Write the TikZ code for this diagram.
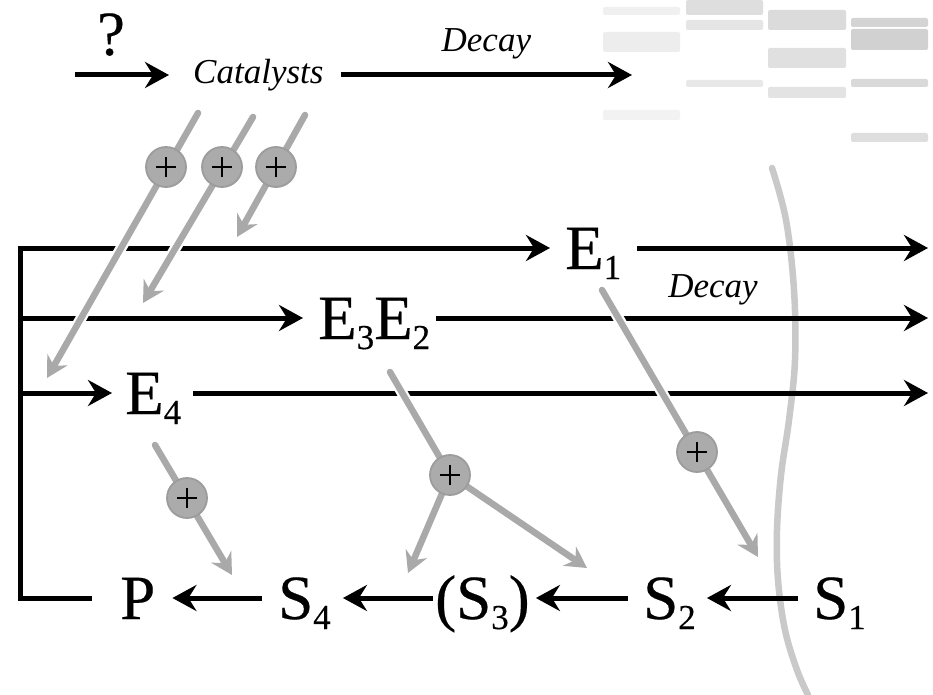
\documentclass[tikz,border=0pt]{standalone}
\usepackage{fontspec}
\setmainfont{Liberation Serif}
\newfontfamily\heavyserif[FakeBold=0.3]{Liberation Serif}
\usetikzlibrary{arrows.meta}
\definecolor{lineg}{HTML}{A9A9A9}
\definecolor{memg}{HTML}{C9C9C9}
\definecolor{circg}{HTML}{ABABAB}
\definecolor{circrim}{HTML}{9C9C9C}
% lowered, smaller index digits
\newcommand\lo[1]{\raisebox{-10pt}{\fontsize{35}{35}\selectfont #1}}
\begin{document}
\begin{tikzpicture}[x=1pt,y=-1pt,
  big/.style={font=\fontsize{63}{70}\heavyserif, inner sep=0pt, text height=42pt, text depth=0pt, anchor=west},
  lab/.style={font=\fontsize{35}{40}\selectfont\itshape, inner sep=0pt},
  blk/.style={line width=5pt, draw=black},
  barr/.style={blk, -{Stealth[length=24pt,width=26pt,inset=8pt]}},
  gline/.style={draw=lineg, line width=6.5pt, line cap=round},
  halo/.style={preaction={draw=white, line width=11pt, arrows=-, line cap=butt}},
  garr/.style={gline, -{Stealth[length=21pt,width=23pt,inset=7pt]}},
  plus/.style={circle, fill=circg, draw=circrim, line width=1.8pt, minimum size=40pt, inner sep=0pt,
    path picture={\draw[line width=2.4pt, black]
      ([xshift=-10pt]path picture bounding box.center) -- ([xshift=10pt]path picture bounding box.center)
      ([yshift=-10pt]path picture bounding box.center) -- ([yshift=10pt]path picture bounding box.center);}},
  gelbar/.style={rounded corners=2pt}
]
\useasboundingbox (0,0) rectangle (933,695);
\fill[white] (0,0) rectangle (933,695);

% faint gel lanes, top right
\fill[gelbar, fill=black!6] (603,7) rectangle (680,15);
\fill[gelbar, fill=black!7] (603,32) rectangle (680,52);
\fill[gelbar, fill=black!5] (603,110) rectangle (680,120);
\fill[gelbar, fill=black!13] (686,0) rectangle (763,15);
\fill[gelbar, fill=black!10] (686,20) rectangle (763,30);
\fill[gelbar, fill=black!9] (686,80) rectangle (763,87);
\fill[gelbar, fill=black!14] (768,10) rectangle (846,30);
\fill[gelbar, fill=black!12] (768,48) rectangle (846,68);
\fill[gelbar, fill=black!11] (768,87) rectangle (846,98);
\fill[gelbar, fill=black!17] (851,18) rectangle (928,27);
\fill[gelbar, fill=black!18] (851,29) rectangle (928,50);
\fill[gelbar, fill=black!15] (851,79) rectangle (928,87);
\fill[gelbar, fill=black!13] (851,133) rectangle (928,142);

% membrane
\draw[draw=memg, line width=6.5pt, line cap=round] plot[smooth, tension=0.6] coordinates
  {(772,168) (786,220) (794,290) (795,360) (789,420) (781,475) (777,530) (778,580) (785,630) (797,670) (808,695)};

% top line: catalysts
\node[big, anchor=base] (q) at (111,55) {?};
\coordinate (qa) at (75,75);
\node[lab, anchor=west] (cat) at (193,75) {Catalysts};
\coordinate (dout) at (632,75);
\draw[barr] (qa) -- ([xshift=-24pt]cat.west);
\draw[barr] ([xshift=17pt]cat.east) -- (dout) node[lab, midway, above=13pt] (decay1) {Decay};

% enzymes and substrates
\coordinate (tl) at (20,248);
\node[big] (E1) at (565,248) {E\lo{1}};
\node[big] (E32) at (318,318) {E\lo{3}E\lo{2}};
\node[big] (E4) at (125,393) {E\lo{4}};
\node[big] (P) at (120,598) {P};
\node[big] (S4) at (278,598) {S\lo{4}};
\node[big] (S3) at (435,598) {(S\lo{3})};
\node[big] (S2) at (643,598) {S\lo{2}};
\node[big] (S1) at (813,598) {S\lo{1}};
\coordinate (o1) at (928,248);
\coordinate (o2) at (928,318);
\coordinate (o3) at (928,393);

\draw[barr] ([xshift=-28pt]P.west) -- (tl |- P.west) -- (tl) -- ([xshift=-15pt]E1.west);
\draw[barr] (tl |- E32.west) -- ([xshift=-15pt]E32.west);
\draw[barr] (tl |- E4.west) -- ([xshift=-13pt]E4.west);

\draw[barr] ([xshift=16pt]E1.east) -- (o1) node[lab, pos=0.26, below=24pt] (decay2) {Decay};
\draw[barr] ([xshift=6pt]E32.east) -- (o2);
\draw[barr] ([xshift=12pt]E4.east) -- (o3);

\draw[barr] ([xshift=-15pt]S1.west) -- ([xshift=11pt]S2.east);
\draw[barr] ([xshift=-15pt]S2.west) -- ([xshift=6pt]S3.east);
\draw[barr] ([xshift=-2pt]S3.west) -- ([xshift=12pt]S4.east);
\draw[barr] ([xshift=-16pt]S4.west) -- ([xshift=17pt]P.east);

% activation arrows
\coordinate (g1s) at (198,113); \coordinate (g1e) at (47,378);  \coordinate (c1) at (166,167);
\coordinate (g2s) at (253,117); \coordinate (g2e) at (143,303); \coordinate (c2) at (222,167);
\coordinate (g3s) at (305,115); \coordinate (g3e) at (237,237); \coordinate (c3) at (276,167);
\coordinate (g4s) at (155,445); \coordinate (g4e) at (232,575); \coordinate (c4) at (187,498);
\coordinate (g5s) at (602,290); \coordinate (g5e) at (758,557); \coordinate (c5) at (697,452);
\coordinate (g6s) at (390,372); \coordinate (c6) at (450,475);
\coordinate (g6l) at (408,573); \coordinate (g6r) at (587,568);

\draw[garr, halo] (g1s) -- (g1e);
\draw[garr, halo] (g2s) -- (g2e);
\draw[garr] (g3s) -- (g3e);
\draw[garr] (g4s) -- (g4e);
\draw[garr, halo] (g5s) -- (g5e);
\draw[gline, halo] (g6s) -- (c6);
\draw[garr] (c6) -- (g6l);
\draw[garr] (c6) -- (g6r);

\node[plus] (p1) at (c1) {};
\node[plus] (p2) at (c2) {};
\node[plus] (p3) at (c3) {};
\node[plus] (p4) at (c4) {};
\node[plus] (p5) at (c5) {};
\node[plus] (p6) at (c6) {};
\end{tikzpicture}
\end{document}
